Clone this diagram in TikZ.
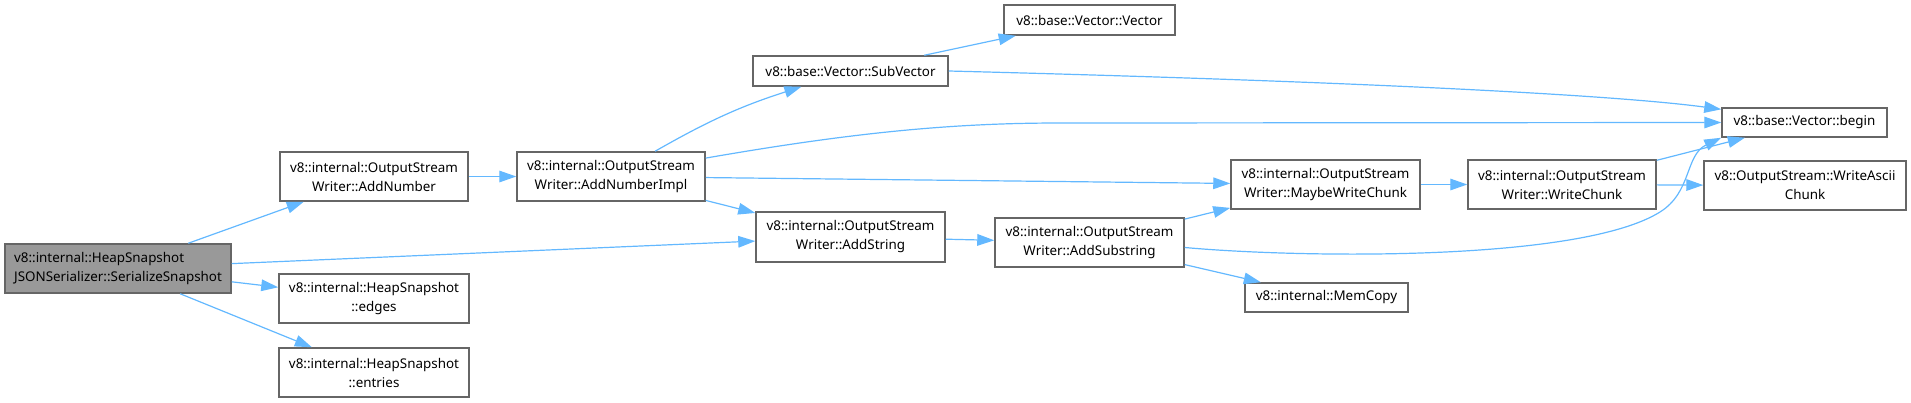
\documentclass[tikz,border=0pt]{standalone}
\usepackage{fontspec}
\setmainfont{Noto Sans}
\usetikzlibrary{arrows.meta}
\definecolor{edgeblue}{HTML}{63B8FF}
\definecolor{boxline}{HTML}{666666}
\definecolor{rootfill}{HTML}{999999}

\begin{document}
\begin{tikzpicture}[
    x=0.5pt, y=-0.5pt,
    box/.style={draw=boxline, line width=0.75pt, fill=white, inner sep=0pt, minimum width=94pt, minimum height=24.5pt, align=center, font=\fontsize{6.7}{9.5}\selectfont},
    small/.style={box, minimum height=14.5pt},
    arrow/.style={-{Triangle[length=8.5pt, width=5.8pt]}, draw=edgeblue, line width=0.6pt}
]
\useasboundingbox (0,0) rectangle (1911,402);

% Root
\node[box, fill=rootfill, minimum width=113pt, align=left] (ser) at (118,268.5) {v8::internal::HeapSnapshot\\JSONSerializer::SerializeSnapshot};

% Column 1
\node[box] (addnum) at (374,176.5) {v8::internal::OutputStream\\Writer::AddNumber};
\node[box, minimum width=95pt] (edges) at (374,298.5) {v8::internal::HeapSnapshot\\::edges};
\node[box, minimum width=95pt] (entries) at (374,372.5) {v8::internal::HeapSnapshot\\::entries};

% Column 2
\node[box] (addnumimpl) at (611,176.5) {v8::internal::OutputStream\\Writer::AddNumberImpl};

% Column 3
\node[small, minimum width=97.5pt, minimum height=15pt] (subvec) at (850.5,71) {v8::base::Vector::SubVector};
\node[box, minimum width=94.5pt, minimum height=25pt] (addstr) at (850.5,237) {v8::internal::OutputStream\\Writer::AddString};

% Column 4
\node[small, minimum width=85.5pt, minimum height=15pt] (vec) at (1089.5,20) {v8::base::Vector::Vector};
\node[box, minimum width=94.5pt] (addsub) at (1089.5,242.5) {v8::internal::OutputStream\\Writer::AddSubstring};

% Column 5
\node[box, minimum width=94.5pt] (maybe) at (1325.5,184.5) {v8::internal::OutputStream\\Writer::MaybeWriteChunk};
\node[small, minimum width=81.5pt] (memcopy) at (1326.5,297.5) {v8::internal::MemCopy};

% Column 6
\node[box] (writechunk) at (1562,184.5) {v8::internal::OutputStream\\Writer::WriteChunk};

% Column 7
\node[small, minimum width=82.5pt] (begin) at (1804.5,122.5) {v8::base::Vector::begin};
\node[box, minimum width=101pt] (ascii) at (1805,185.5) {v8::OutputStream::WriteAscii\\Chunk};

% Arrows
\draw[arrow] (ser) -- (addnum);
\draw[arrow] (ser) -- (addstr);
\draw[arrow] (ser) -- (edges);
\draw[arrow] (ser) -- (entries);
\draw[arrow] (addnum) -- (addnumimpl);
\draw[arrow] (addnumimpl) to[bend left=6] (subvec);
\draw[arrow] (addnumimpl.11) .. controls (850,133) and (950,123) .. (1060,123) -- (begin.west);
\draw[arrow] (addnumimpl) -- (maybe);
\draw[arrow] (addnumimpl) -- (addstr);
\draw[arrow] (subvec) -- (vec);
\draw[arrow] (subvec.east) .. controls (1300,80) and (1600,93) .. (begin.171);
\draw[arrow] (addstr) -- (addsub);
\draw[arrow] (addsub) -- (maybe);
\draw[arrow] (addsub.-3) .. controls (1300,258) and (1580,262) .. (1660,212) .. controls (1692,192) and (1685,155) .. (begin.south west);
\draw[arrow] (addsub) -- (memcopy);
\draw[arrow] (maybe) -- (writechunk);
\draw[arrow] (writechunk) -- (begin);
\draw[arrow] (writechunk) -- (ascii);

\end{tikzpicture}
\end{document}
